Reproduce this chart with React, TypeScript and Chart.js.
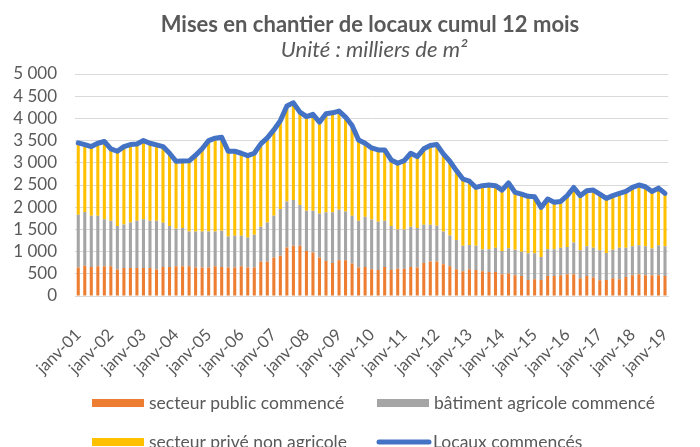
import React, { useEffect, useRef } from "react";
import { Chart, registerables } from "chart.js";

Chart.register(...registerables);

const yearLabels = [
  "janv-01", "janv-02", "janv-03", "janv-04", "janv-05", "janv-06", "janv-07",
  "janv-08", "janv-09", "janv-10", "janv-11", "janv-12", "janv-13", "janv-14",
  "janv-15", "janv-16", "janv-17", "janv-18", "janv-19",
];

const categories = Array.from({ length: 91 }, (_, i) => (i % 5 === 0 ? yearLabels[i / 5] : ""));

const secteurPublic = [
  640, 680, 655, 670, 670, 670, 595, 630, 630, 630, 630, 630, 595, 655, 655, 670, 670, 670,
  640, 640, 640, 670, 655, 640, 640, 670, 640, 640, 770, 770, 865, 905, 1090, 1130, 1130, 1015,
  980, 865, 790, 745, 805, 805, 730, 640, 655, 600, 585, 655, 585, 615, 615, 655, 640, 745,
  775, 775, 715, 670, 600, 555, 600, 585, 555, 540, 540, 490, 505, 465, 450, 360, 375, 360,
  450, 450, 465, 490, 490, 400, 450, 415, 355, 360, 400, 375, 430, 465, 490, 465, 465, 465, 450,
];

const batimentAgricole = [
  1190, 1210, 1150, 1135, 1060, 1025, 980, 980, 1025, 1065, 1100, 1065, 1100, 995, 920, 845, 860, 785,
  815, 815, 815, 785, 815, 700, 715, 685, 680, 740, 790, 885, 940, 1055, 1040, 1030, 920, 905,
  940, 995, 1095, 1140, 1140, 1100, 1075, 1055, 1130, 1125, 1085, 1040, 990, 885, 885, 905, 890, 860,
  830, 805, 740, 695, 660, 575, 550, 545, 490, 515, 545, 525, 570, 575, 545, 605, 590, 520,
  605, 605, 620, 615, 715, 630, 670, 670, 675, 610, 640, 710, 655, 655, 655, 655, 605, 680, 670,
];

const secteurPrive = [
  1620, 1520, 1560, 1635, 1750, 1620, 1685, 1755, 1755, 1730, 1770, 1745, 1710, 1715, 1640, 1520, 1510, 1590,
  1715, 1860, 2045, 2100, 2105, 1920, 1905, 1860, 1840, 1835, 1865, 1905, 1935, 1990, 2150, 2190, 2090, 2120,
  2170, 2055, 2220, 2240, 2220, 2125, 2035, 1820, 1655, 1610, 1620, 1595, 1490, 1490, 1550, 1655, 1610, 1710,
  1785, 1830, 1745, 1670, 1565, 1505, 1435, 1315, 1440, 1445, 1400, 1370, 1470, 1295, 1300, 1280, 1270, 1115,
  1130, 1055, 1045, 1155, 1240, 1230, 1250, 1300, 1265, 1230, 1220, 1225, 1270, 1325, 1355, 1340, 1285, 1285, 1190,
];

const locauxCommences = [
  3450, 3410, 3365, 3440, 3480, 3315, 3260, 3365, 3410, 3425, 3500, 3440, 3405, 3365, 3215, 3035, 3040, 3045,
  3170, 3315, 3500, 3555, 3575, 3260, 3260, 3215, 3160, 3215, 3425, 3560, 3740, 3950, 4280, 4350, 4140, 4040,
  4090, 3915, 4105, 4125, 4165, 4030, 3840, 3515, 3440, 3335, 3290, 3290, 3065, 2990, 3050, 3215, 3140, 3315,
  3390, 3410, 3200, 3035, 2825, 2635, 2585, 2445, 2485, 2500, 2485, 2385, 2545, 2335, 2295, 2245, 2235, 1995,
  2185, 2110, 2130, 2260, 2445, 2260, 2370, 2385, 2295, 2200, 2260, 2310, 2355, 2445, 2500, 2460, 2355, 2430, 2310,
];

const seriesNames = [
  "secteur public commencé",
  "bâtiment agricole commencé",
  "secteur privé non agricole",
  "Locaux commencés",
];

const TEXT = "#595959";
const FONT = "Lato";
const COLORS = ["#ED7D31", "#A5A5A5", "#FFC000", "#4472C4"];

const fmt = (v: number) => {
  if (v >= 1000) {
    const th = Math.floor(v / 1000);
    const r = String(v % 1000).padStart(3, "0");
    return `${th} ${r}`;
  }
  return String(v);
};

const decorPlugin = {
  id: "decor",
  afterDraw(chart: any) {
    const ctx = chart.ctx as CanvasRenderingContext2D;
    ctx.save();
    ctx.fillStyle = TEXT;
    ctx.textAlign = "center";
    ctx.textBaseline = "alphabetic";
    ctx.font = `bold 22px ${FONT}`;
    ctx.fillText("Mises en chantier de locaux cumul 12 mois", 370, 32);
    ctx.font = `italic 22px ${FONT}`;
    ctx.fillText("Unité : milliers de m²", 374, 57);

    // legend
    const items = [
      { x: 92, y: 403, kind: "box" },
      { x: 377, y: 403, kind: "box" },
      { x: 92, y: 442, kind: "box" },
      { x: 377, y: 442, kind: "line" },
    ];
    ctx.textAlign = "left";
    ctx.textBaseline = "middle";
    ctx.font = `17.5px ${FONT}`;
    items.forEach((it, i) => {
      if (it.kind === "box") {
        ctx.fillStyle = COLORS[i];
        ctx.fillRect(it.x, it.y - 4, 52, 8);
      } else {
        ctx.strokeStyle = COLORS[i];
        ctx.lineWidth = 5;
        ctx.lineCap = "round";
        ctx.beginPath();
        ctx.moveTo(it.x + 2, it.y);
        ctx.lineTo(it.x + 52, it.y);
        ctx.stroke();
      }
      ctx.fillStyle = TEXT;
      ctx.fillText(seriesNames[i], it.x + (it.kind === "box" ? 57 : 56), it.y);
    });
    ctx.restore();
  },
};

export default function App() {
  const ref = useRef<HTMLCanvasElement | null>(null);

  useEffect(() => {
    document.body.style.margin = "0";
    if (!ref.current) return;
    const chart = new Chart(ref.current, {
      type: "bar",
      data: {
        labels: categories,
        datasets: [
          {
            type: "line",
            label: seriesNames[3],
            data: locauxCommences,
            borderColor: COLORS[3],
            backgroundColor: COLORS[3],
            borderWidth: 5,
            pointRadius: 0,
            tension: 0,
            borderJoinStyle: "round",
            borderCapStyle: "round",
            stack: "line",
            order: 0,
          } as any,
          {
            label: seriesNames[0],
            data: secteurPublic,
            backgroundColor: COLORS[0],
            stack: "bars",
            order: 1,
            barPercentage: 0.47,
            categoryPercentage: 1,
          },
          {
            label: seriesNames[1],
            data: batimentAgricole,
            backgroundColor: COLORS[1],
            stack: "bars",
            order: 1,
            barPercentage: 0.47,
            categoryPercentage: 1,
          },
          {
            label: seriesNames[2],
            data: secteurPrive,
            backgroundColor: COLORS[2],
            stack: "bars",
            order: 1,
            barPercentage: 0.47,
            categoryPercentage: 1,
          },
        ],
      },
      options: {
        responsive: false,
        animation: false,
        layout: { padding: { top: 74, left: 0, right: 0, bottom: 0 } },
        plugins: {
          legend: { display: false },
          title: { display: false },
          tooltip: { enabled: false },
        },
        scales: {
          x: {
            stacked: true,
            grid: { display: false },
            border: { display: true, color: "#D9D9D9", width: 1 },
            ticks: {
              autoSkip: false,
              maxRotation: 45,
              minRotation: 45,
              padding: 21,
              color: TEXT,
              font: { family: FONT, size: 16.5 },
            },
            afterFit: (s: any) => {
              s.height = 151;
            },
          },
          y: {
            stacked: true,
            min: 0,
            max: 5000,
            grid: { color: "#D9D9D9", lineWidth: 1, drawTicks: false },
            border: { display: false },
            ticks: {
              stepSize: 500,
              autoSkip: false,
              padding: 18,
              color: TEXT,
              font: { family: FONT, size: 17 },
              callback: (v: any) => fmt(Number(v)),
            },
            afterFit: (s: any) => {
              s.width = 75;
            },
          },
        },
      },
      plugins: [decorPlugin],
    });
    return () => chart.destroy();
  }, []);

  return (
    <div style={{ width: 700, height: 447 }}>
      <canvas ref={ref} width={700} height={447} style={{ display: "block", width: 700, height: 447 }} />
    </div>
  );
}
